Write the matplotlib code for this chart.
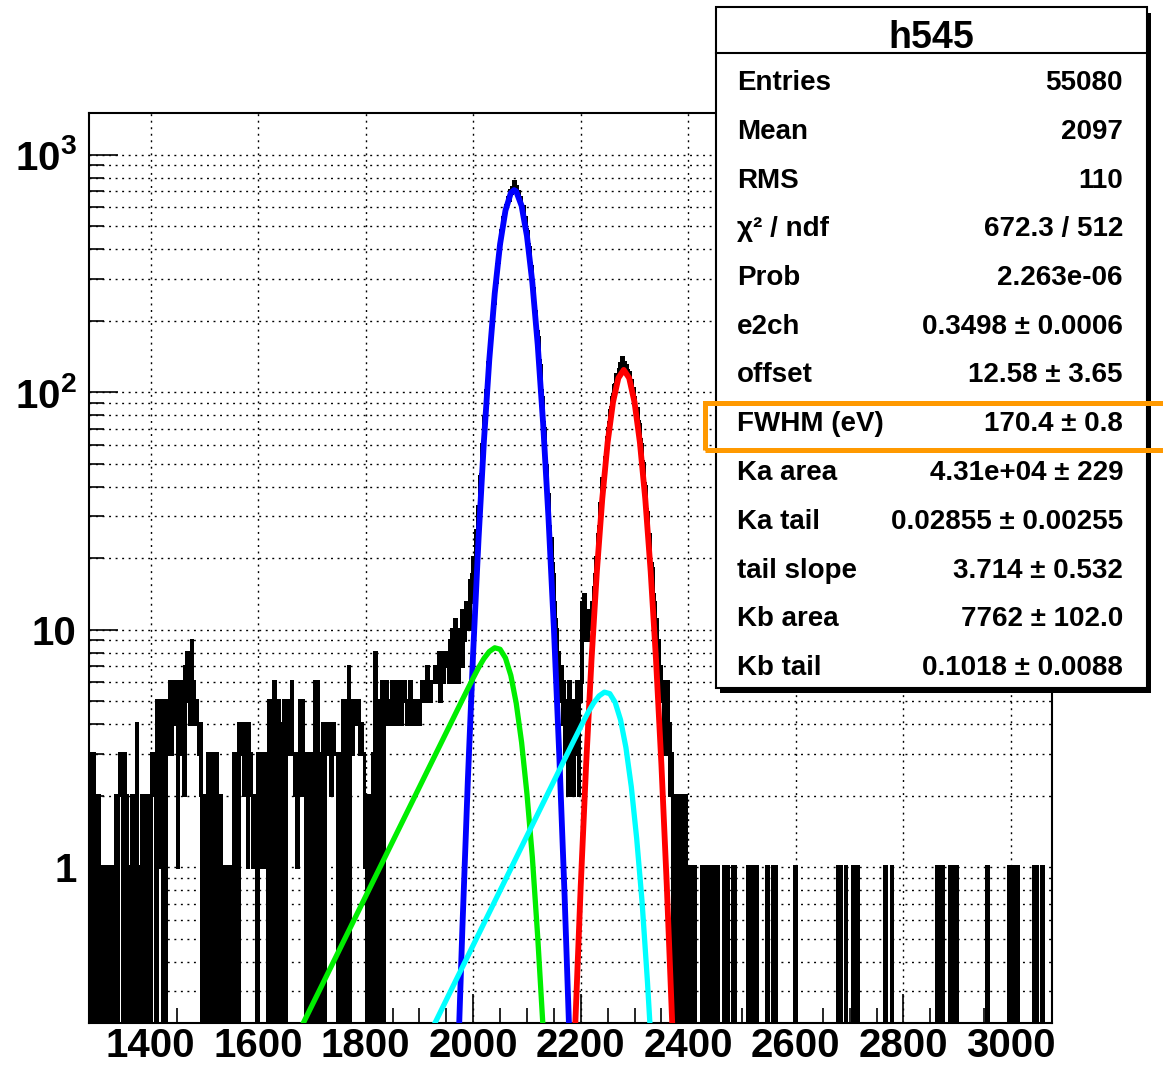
import numpy as np
import matplotlib
matplotlib.use('Agg')
import matplotlib.pyplot as plt
from matplotlib.ticker import FixedLocator, FixedFormatter, LogLocator, NullFormatter, MultipleLocator
from matplotlib.patches import Rectangle

plt.rcParams['font.family'] = ['Liberation Sans', 'DejaVu Sans']
plt.rcParams['font.weight'] = 'bold'
plt.rcParams['mathtext.fontset'] = 'custom'
plt.rcParams['mathtext.bf'] = 'Liberation Sans:bold'
plt.rcParams['mathtext.rm'] = 'Liberation Sans:bold'

# ---- histogram h545 (2-channel bins starting at channel 1286) ----
first_channel = 1286
bin_width = 2
n_bins = 896

# counts per bin, channels 1286-1950 (one digit per bin)
bg_left = (
    "3202301020" "1010010101" "1010120232" "2030210101" "2021401012"
    "2020212032" "2305154505" "5045363546" "5614563527" "6857495645"
    "4434202102" "3031303230" "2021010101" "1010302304" "3434243143"
    "3212120312" "2313210505" "5060515040" "3504353463" "3231335253"
    "2030302030" "6063030403" "4343423433" "3030305050" "5705354545"
    "5434331202" "1020308050" "5060656545" "5645464556" "4656545465"
    "5454455456" "6565756566" "6767685786" "87"
)

# counts per bin, channels 1950-2400 (Ka and Kb peaks)
peak_counts = [
    8, 7, 6, 9, 7, 10, 6, 8, 11, 7, 9, 6, 10, 8, 12, 7, 11, 9, 13, 10, 12, 10, 16, 13, 17,
    20, 18, 26, 25, 33, 31, 44, 45, 60, 61, 78, 80, 101, 104, 133, 145, 176, 184, 221, 236, 280, 291, 345, 352, 410,
    425, 478, 489, 541, 549, 610, 598, 655, 641, 702, 689, 726, 698, 766, 711, 730, 680, 697, 646, 657, 601, 604, 543, 540, 481,
    473, 415, 404, 347, 336, 287, 273, 229, 218, 179, 169, 136, 129, 101, 95, 74, 70, 52, 49, 36, 37, 27, 24, 19, 17,
    13, 11, 10, 7, 8, 6, 5, 7, 4, 6, 3, 5, 4, 2, 6, 3, 5, 4, 2, 5, 3, 6, 4, 2, 5,
    6, 13, 9, 14, 10, 12, 9, 11, 12, 10, 13, 11, 15, 17, 20, 19, 25, 27, 34, 33, 43, 45, 53, 55, 64,
    70, 74, 83, 86, 95, 97, 106, 107, 118, 115, 124, 131, 126, 139, 127, 133, 125, 129, 123, 118, 121, 109, 112, 98, 103,
    95, 86, 85, 75, 73, 63, 60, 51, 50, 41, 40, 32, 31, 24, 25, 19, 18, 14, 13, 10, 11, 8, 9, 6, 7,
    5, 6, 3, 5, 4, 6, 3, 4, 2, 3, 2, 0, 2, 1, 2, 0, 2, 1, 0, 2, 1, 0, 2, 0, 1,
]

# channels holding a single count, 2400-3078
right_hits = [2404, 2410, 2426, 2430, 2434, 2438, 2442, 2446, 2450, 2454, 2466, 2472,
              2482, 2486, 2510, 2514, 2518, 2522, 2526, 2546, 2558, 2562, 2598, 2678,
              2682, 2692, 2706, 2710, 2714, 2766, 2778, 2862, 2866, 2872, 2886, 2890,
              2894, 2898, 2956, 2996, 3000, 3004, 3012, 3042, 3046, 3058]

# ---- fit components ----
ka_gauss_ch = [1970, 1980, 1990, 2000, 2010, 2020, 2030, 2040, 2050, 2060, 2070, 2076,
               2080, 2090, 2100, 2110, 2120, 2130, 2140, 2150, 2160, 2170, 2180]
ka_gauss_val = [0.117, 0.560, 2.30, 8.07, 24.2, 62.4, 137.5, 259.7, 419.9, 581.4, 689.5, 709.0,
                700.3, 609.0, 453.8, 289.4, 158.2, 74.0, 29.6, 10.2, 2.99, 0.753, 0.162]

kb_gauss_ch = [2180, 2190, 2200, 2210, 2220, 2230, 2240, 2250, 2260, 2270, 2280,
               2290, 2300, 2310, 2320, 2330, 2340, 2350, 2360, 2370, 2380]
kb_gauss_val = [0.050, 0.222, 0.836, 2.70, 7.45, 17.6, 35.5, 61.4, 90.7, 114.7, 124.0,
                114.7, 90.7, 61.4, 35.5, 17.6, 7.45, 2.70, 0.836, 0.222, 0.050]

ka_tail_ch = [1680, 1720, 1760, 1800, 1840, 1880, 1920, 1960, 1980, 2000, 2010, 2020,
              2030, 2040, 2050, 2060, 2070, 2080, 2090, 2100, 2110, 2120, 2130, 2140]
ka_tail_val = [0.211, 0.322, 0.492, 0.752, 1.149, 1.756, 2.684, 4.10, 5.07, 6.25, 6.91, 7.55,
               8.08, 8.38, 8.26, 7.59, 6.41, 4.90, 3.35, 2.03, 1.10, 0.507, 0.209, 0.073]

kb_tail_ch = [1884, 1924, 1964, 2004, 2044, 2084, 2124, 2164, 2184, 2204, 2214, 2224,
              2234, 2244, 2254, 2264, 2274, 2284, 2294, 2304, 2314, 2324, 2334, 2344]
kb_tail_val = [0.137, 0.209, 0.320, 0.489, 0.747, 1.142, 1.745, 2.666, 3.297, 4.064, 4.494, 4.910,
               5.254, 5.450, 5.371, 4.936, 4.168, 3.187, 2.179, 1.320, 0.715, 0.330, 0.136, 0.048]

# ---- stats box ----
stat_title = 'h545'
stat_labels = ['Entries', 'Mean', 'RMS', 'χ² / ndf', 'Prob', 'e2ch', 'offset', 'FWHM (eV)',
               'Ka area', 'Ka tail', 'tail slope', 'Kb area', 'Kb tail']
stat_values = ['55080', '2097', '110', '672.3 / 512', '2.263e-06', '0.3498 ± 0.0006',
               '12.58 ± 3.65', '170.4 ± 0.8', '4.31e+04 ± 229', '0.02855 ± 0.00255',
               '3.714 ± 0.532', '7762 ± 102.0', '0.1018 ± 0.0088']

ytick_vals = [1, 10, 100, 1000]
ytick_labels = ['1', '10', r'$\mathbf{10^{2}}$', r'$\mathbf{10^{3}}$']

# build the histogram
counts = np.zeros(n_bins)
left = [int(c) for c in bg_left]
counts[:len(left)] = left
counts[len(left):len(left) + len(peak_counts)] = peak_counts
for ch in right_hits:
    counts[(ch - first_channel) // bin_width] = 1
edges = first_channel + bin_width * np.arange(n_bins + 1)

W, H = 1163, 1069
fig = plt.figure(figsize=(W / 100, H / 100), dpi=100)
ax = fig.add_axes([89 / W, 1 - 1023 / H, (1052 - 89) / W, (1023 - 113) / H])

ax.set_yscale('log')
ax.set_xlim(1285.6, 3076.3)
ax.set_ylim(0.2204, 1497)

# zero bins drop below the frame, as in ROOT
ax.stairs(np.where(counts > 0, counts, 1e-3), edges, baseline=None,
          color='black', lw=1.9, antialiased=False, zorder=2)

ax.plot(ka_gauss_ch, ka_gauss_val, color='#0000FF', lw=4.2, zorder=3)
ax.plot(kb_gauss_ch, kb_gauss_val, color='#FF0000', lw=4.2, zorder=3)
ax.plot(ka_tail_ch, ka_tail_val, color='#00EE00', lw=3.8, zorder=3)
ax.plot(kb_tail_ch, kb_tail_val, color='#00FFFF', lw=3.8, zorder=3)

ax.xaxis.set_major_locator(MultipleLocator(200))
ax.xaxis.set_minor_locator(MultipleLocator(50))
ax.yaxis.set_major_locator(FixedLocator(ytick_vals))
ax.yaxis.set_major_formatter(FixedFormatter(ytick_labels))
ax.yaxis.set_minor_locator(LogLocator(base=10, subs=np.arange(2, 10)))
ax.yaxis.set_minor_formatter(NullFormatter())

ax.tick_params(which='both', direction='in', top=False, right=False, width=1.2)
ax.tick_params(which='major', length=21)
ax.tick_params(which='minor', length=11)
ax.tick_params(axis='x', labelsize=29, pad=3)
ax.tick_params(axis='y', labelsize=29, pad=9)
for lab in ax.get_xticklabels() + ax.get_yticklabels():
    lab.set_fontweight('bold')

dots = (0, (1.4, 3.3))
ax.grid(True, which='major', axis='x', color='black', lw=1.0, linestyle=dots)
ax.grid(True, which='both', axis='y', color='black', lw=1.0, linestyle=dots)
ax.set_axisbelow(True)
for s in ax.spines.values():
    s.set_linewidth(1.5)


def fx(x):
    return x / W


def fy(y):
    return 1 - y / H


# stats box with shadow
fig.add_artist(Rectangle((fx(720), fy(693)), fx(1151) - fx(720), fy(13) - fy(693),
                         transform=fig.transFigure, facecolor='black', edgecolor='none', zorder=5))
fig.add_artist(Rectangle((fx(716), fy(688)), fx(1147) - fx(716), fy(7) - fy(688),
                         transform=fig.transFigure, facecolor='white', edgecolor='black',
                         lw=1.5, zorder=6))
fig.add_artist(plt.Line2D([fx(716), fx(1147)], [fy(53), fy(53)], transform=fig.transFigure,
                          color='black', lw=1.5, zorder=7))
fig.text(fx(931), fy(48), stat_title, ha='center', va='baseline', fontsize=27,
         fontweight='bold', zorder=8)
for i, (lab, val) in enumerate(zip(stat_labels, stat_values)):
    yb = 90 + 48.75 * i
    fig.text(fx(737), fy(yb), lab, ha='left', va='baseline', fontsize=20, fontweight='bold', zorder=8)
    fig.text(fx(1123), fy(yb), val, ha='right', va='baseline', fontsize=20, fontweight='bold', zorder=8)

# orange highlight around the FWHM row
fig.add_artist(Rectangle((fx(704.5), fy(449.5)), fx(1175) - fx(704.5), fy(402.5) - fy(449.5),
                         transform=fig.transFigure, fill=False, edgecolor='#FF9900',
                         lw=3.6, zorder=9))

fig.savefig('out.png', dpi=100)
